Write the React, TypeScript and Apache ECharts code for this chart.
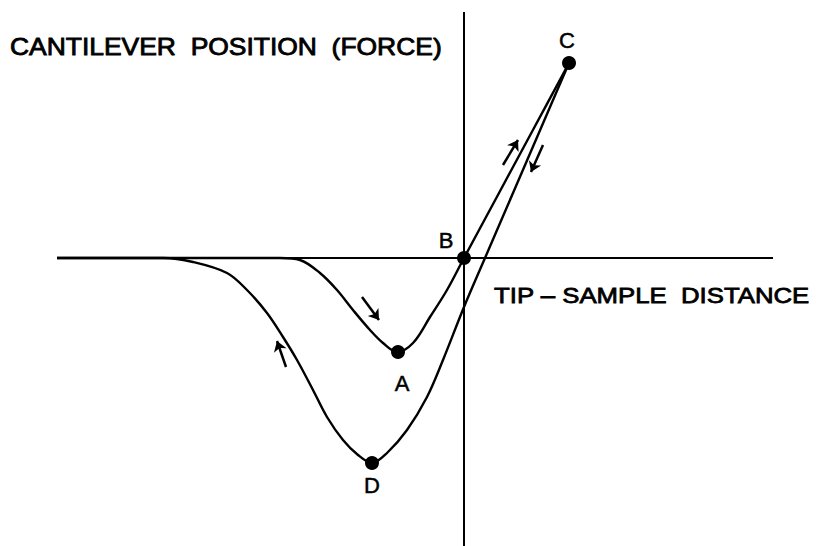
import React, { useEffect, useRef } from "react";
import * as echarts from "echarts";

// Semantic coordinates: x = tip-sample distance (0 at contact B), y = cantilever force (0 = rest)
const approachX = [-407, -184, -164, -144, -127, -111, -94, -81, -67, -51, -34, -17, 0, 35, 70, 105];
const approachY = [0, 0, -2, -15, -32, -52, -72, -85, -94, -85, -59, -32, 0, 65, 130, 195];

const retractX = [-407, -301, -271, -237, -217, -197, -181, -167, -151, -137, -121, -106, -92, -77, -57, -37, -21, 0, 21, 49, 77, 105];
const retractY = [0, 0, -4, -15, -32, -55, -79, -102, -132, -159, -182, -197, -205, -195, -172, -139, -102, -49, 0, 65, 130, 195];

const pointNames = ["A", "B", "C", "D"];
const pointX = [-66, 0, 105, -92];
const pointY = [-94, 0, 195, -205];

const horizAxisX = [-407, 309];
const vertAxisY = [246, -290];

const arrowStarts = [[-102, -39], [-178, -109], [39, 93], [79, 113]];
const arrowEnds = [[-85, -62], [-187, -83], [54, 118], [67, 86]];

const yLabel = "CANTILEVER  POSITION  (FORCE)";
const xLabel = "TIP – SAMPLE  DISTANCE";

const labelOffsets: Record<string, [number, number]> = {
  A: [4, 31],
  B: [-18, -18],
  C: [-2, -23],
  D: [0, 22],
};

export default function App() {
  const ref = useRef<HTMLDivElement>(null);
  useEffect(() => {
    if (!ref.current) return;
    const chart = echarts.init(ref.current, null, { renderer: "svg" });
    const zip = (xs: number[], ys: number[]) => xs.map((x, i) => [x, ys[i]]);
    const font = "'Liberation Sans', Arial, Helvetica, sans-serif";
    chart.setOption({
      animation: false,
      backgroundColor: "#fff",
      grid: { left: 0, right: 0, top: 0, bottom: 0 },
      xAxis: { type: "value", min: -464, max: 352, show: false },
      yAxis: { type: "value", min: -288, max: 258, show: false },
      series: [
        {
          type: "line",
          data: [[horizAxisX[0], 0], [horizAxisX[1], 0]],
          symbol: "none",
          lineStyle: { color: "#000", width: 2 },
        },
        {
          type: "line",
          data: [[0, vertAxisY[0]], [0, vertAxisY[1]]],
          symbol: "none",
          lineStyle: { color: "#000", width: 2 },
        },
        {
          type: "line",
          data: zip(approachX, approachY),
          smooth: 0.35,
          symbol: "none",
          lineStyle: { color: "#000", width: 2.4 },
        },
        {
          type: "line",
          data: zip(retractX, retractY),
          smooth: 0.35,
          symbol: "none",
          lineStyle: { color: "#000", width: 2.4 },
        },
        {
          type: "lines",
          coordinateSystem: "cartesian2d",
          symbol: ["none", "arrow"],
          symbolSize: [7, 10],
          lineStyle: { color: "#000", width: 2.5, opacity: 1 },
          data: arrowStarts.map((s, i) => ({ coords: [s, arrowEnds[i]] })),
        },
        {
          type: "scatter",
          symbol: "circle",
          symbolSize: 14,
          itemStyle: { color: "#000", opacity: 1 },
          data: pointNames.map((n, i) => ({
            name: n,
            value: [pointX[i], pointY[i]],
            label: {
              show: true,
              formatter: n,
              position: "inside",
              offset: labelOffsets[n],
              color: "#000",
              fontSize: 22,
              fontFamily: font,
              textBorderColor: "#000",
              textBorderWidth: 0.5,
            },
          })),
        },
      ],
      graphic: [
        {
          type: "text",
          x: 10,
          y: 47,
          scaleX: 1.15,
          style: {
            text: yLabel,
            fill: "#000",
            stroke: "#000",
            lineWidth: 0.8,
            fontSize: 23,
            fontFamily: font,
            textAlign: "left",
            textVerticalAlign: "middle",
          },
        },
        {
          type: "text",
          x: 494,
          y: 295,
          scaleX: 1.12,
          style: {
            text: xLabel,
            fill: "#000",
            stroke: "#000",
            lineWidth: 0.8,
            fontSize: 23,
            fontFamily: font,
            textAlign: "left",
            textVerticalAlign: "middle",
          },
        },
      ],
    });
    return () => chart.dispose();
  }, []);
  return (
    <div
      ref={ref}
      style={{ position: "fixed", left: 0, top: 0, width: 816, height: 546 }}
    />
  );
}
